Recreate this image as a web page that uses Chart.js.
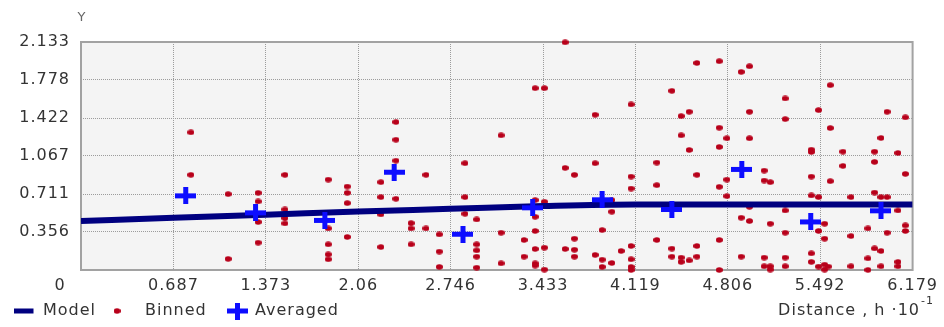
<!DOCTYPE html>
<html>
<head>
<meta charset="utf-8">
<script src="https://cdn.jsdelivr.net/npm/chart.js@4.4.1/dist/chart.umd.min.js"></script>
<style>
  html, body { margin: 0; padding: 0; background: #ffffff; }
  #wrap { position: relative; width: 944px; height: 327px; }
</style>
</head>
<body>
<div id="wrap"><canvas id="c"></canvas></div>
<script>
// ---- data ----
const xTicks = [0, 0.687, 1.373, 2.06, 2.746, 3.433, 4.119, 4.806, 5.492, 6.179];
const xTickLabels = ['0', '0.687', '1.373', '2.06', '2.746', '3.433', '4.119', '4.806', '5.492', '6.179'];
const yTicks = [0, 0.356, 0.711, 1.067, 1.422, 1.778, 2.133];
const yTickLabels = ['0', '0.356', '0.711', '1.067', '1.422', '1.778', '2.133'];

const modelX = [0, 0.687, 1.373, 2.06, 2.746, 3.433, 4.119, 4.806, 5.492, 6.179];
const modelY = [0.458, 0.489, 0.517, 0.548, 0.572, 0.598, 0.613, 0.613, 0.613, 0.613];

const averagedX = [0.778, 1.297, 1.812, 2.327, 2.838, 3.356, 3.872, 4.390, 4.910, 5.422, 5.944];
const averagedY = [0.694, 0.535, 0.464, 0.915, 0.335, 0.582, 0.657, 0.566, 0.941, 0.450, 0.554];

// binned semivariogram cloud: one lag distance per column, with the values at that lag
const binnedLags = [0.816, 1.093, 1.316, 1.515, 1.837, 1.978, 2.228, 2.340, 2.452, 2.563,
  2.662, 2.853, 2.940, 3.121, 3.292, 3.374, 3.443, 3.597, 3.666, 3.820,
  3.872, 3.944, 4.013, 4.087, 4.278, 4.390, 4.459, 4.519, 4.576, 4.742,
  4.799, 4.905, 4.967, 5.076, 5.121, 5.232, 5.426, 5.480, 5.525, 5.552,
  5.567, 5.661, 5.721, 5.847, 5.896, 5.944, 5.989, 6.070, 6.125];
const binnedValues = [
  [1.288, 0.890], [0.710, 0.104], [0.722, 0.641, 0.449, 0.256], [0.890, 0.566, 0.486, 0.436],
  [0.846, 0.389, 0.240, 0.146, 0.100], [0.781, 0.722, 0.626, 0.309], [0.822, 0.682, 0.520, 0.215],
  [1.384, 1.219, 1.023, 0.666], [0.439, 0.389, 0.240], [0.890, 0.389],
  [0.333, 0.172, 0.029], [0.999, 0.682, 0.526], [0.473, 0.240, 0.184, 0.125, 0.022],
  [1.260, 0.349, 0.062], [0.281, 0.125], [1.701, 0.654, 0.498, 0.365, 0.197, 0.062, 0.041],
  [1.701, 0.638, 0.209, 0.004], [2.130, 0.955, 0.197], [0.890, 0.293, 0.190, 0.125],
  [1.452, 0.999, 0.141], [0.374, 0.097, 0.029], [0.654, 0.545, 0.066], [0.178],
  [1.549, 0.874, 0.762, 0.225, 0.100, 0.029, 0.000], [1.005, 0.794, 0.281],
  [1.676, 0.200, 0.125], [1.440, 1.260, 0.116, 0.076], [1.480, 1.123, 0.090],
  [1.937, 0.890, 0.225, 0.125], [1.953, 1.331, 1.151, 0.778, 0.281, 0.000],
  [1.232, 0.846, 0.691], [1.853, 0.489, 0.125], [1.906, 1.480, 1.232, 0.591, 0.458],
  [0.930, 0.837, 0.116, 0.035], [0.822, 0.433, 0.035, 0.004],
  [1.605, 1.412, 0.557, 0.349, 0.116, 0.035], [1.126, 1.104, 0.874, 0.697, 0.156, 0.076],
  [1.496, 0.682, 0.365, 0.032], [0.433, 0.293, 0.050, 0.004], [0.032],
  [1.729, 1.328, 0.831], [1.107, 0.974], [0.682, 0.318, 0.035], [0.389, 0.109, 0.001],
  [1.107, 1.011, 0.725, 0.202], [1.235, 0.682, 0.178, 0.035], [1.480, 0.682, 0.349],
  [1.095, 0.557, 0.076, 0.035], [1.428, 0.899, 0.417, 0.365]
];

const seriesNames = ['Model', 'Binned', 'Averaged'];
const xAxisTitle = 'Distance , h \u00B710';
const xAxisExp = '-1';
const yAxisTitle = 'Y';

// ---- marker images ----
function makeDot() {
  const c = document.createElement('canvas'); c.width = 7; c.height = 6;
  const g = c.getContext('2d');
  g.fillStyle = '#b8001a';
  g.beginPath(); g.ellipse(3.5, 3, 3.5, 2.8, 0, 0, Math.PI * 2); g.fill();
  return c;
}
function makeCross() {
  const c = document.createElement('canvas'); c.width = 21; c.height = 17;
  const g = c.getContext('2d');
  g.fillStyle = '#0d0dff';
  g.fillRect(0, 6, 21, 5);
  g.fillRect(8, 0, 5, 17);
  return c;
}
const dotImg = makeDot();
const crossImg = makeCross();

const binnedPoints = [];
binnedLags.forEach((lag, i) => binnedValues[i].forEach(v => binnedPoints.push({ x: lag, y: v })));
const modelPoints = modelX.map((x, i) => ({ x, y: modelY[i] }));
const averagedPoints = averagedX.map((x, i) => ({ x, y: averagedY[i] }));

const FONT = 'DejaVu Sans';
Chart.defaults.font.family = FONT;
Chart.defaults.font.size = 16;
Chart.defaults.color = '#333333';

const spacing = {
  id: 'spacing',
  beforeUpdate(chart) { chart.ctx.letterSpacing = '1px'; },
  beforeDraw(chart) { chart.ctx.letterSpacing = '1px'; }
};

const decor = {
  id: 'decor',
  beforeDraw(chart) {
    const { ctx, chartArea: a } = chart;
    ctx.save();
    ctx.fillStyle = '#f4f4f4';
    ctx.fillRect(a.left, a.top, a.right - a.left, a.bottom - a.top);
    ctx.restore();
  },
  beforeDatasetsDraw(chart) {
    const { ctx, chartArea: a } = chart;
    ctx.save();
    ctx.strokeStyle = '#a2a2a2';
    ctx.lineWidth = 2;
    ctx.strokeRect(a.left, a.top, a.right - a.left, a.bottom - a.top);
    ctx.restore();
  },
  afterDraw(chart) {
    const { ctx, chartArea: a } = chart;
    ctx.save();
    ctx.letterSpacing = '1px';
    ctx.textBaseline = 'middle';
    // y axis title
    ctx.font = '13px "' + FONT + '"';
    ctx.fillStyle = '#666666';
    ctx.textAlign = 'center';
    ctx.fillText(yAxisTitle, a.left + 1, 18);
    // origin label
    ctx.font = '16px "' + FONT + '"';
    ctx.fillStyle = '#333333';
    ctx.fillText(xTickLabels[0], a.left - 21, 286);
    // legend
    const ly = 311;
    ctx.fillStyle = '#000080';
    ctx.fillRect(14, ly - 2.5, 19.5, 5);
    ctx.drawImage(dotImg, 117 - 3.5, ly - 3);
    ctx.drawImage(crossImg, 237.5 - 10.5, ly - 8.5);
    ctx.fillStyle = '#333333';
    ctx.textAlign = 'left';
    ctx.fillText(seriesNames[0], 43, ly);
    ctx.fillText(seriesNames[1], 145, ly);
    ctx.fillText(seriesNames[2], 255, ly);
    // x axis title
    ctx.textAlign = 'right';
    ctx.fillText(xAxisTitle, 920, ly);
    ctx.font = '11px "' + FONT + '"';
    ctx.textAlign = 'left';
    ctx.fillText(xAxisExp, 921, ly - 10);
    ctx.restore();
  }
};

new Chart(document.getElementById('c'), {
  type: 'scatter',
  data: {
    datasets: [
      {
        label: seriesNames[2], data: averagedPoints, order: 0,
        pointStyle: crossImg, pointRadius: 8, clip: false
      },
      {
        label: seriesNames[0], data: modelPoints, order: 1, showLine: true,
        borderColor: '#000080', borderWidth: 6, pointRadius: 0,
        cubicInterpolationMode: 'monotone', borderCapStyle: 'butt', fill: false
      },
      {
        label: seriesNames[1], data: binnedPoints, order: 2,
        pointStyle: dotImg, pointRadius: 3, clip: false
      }
    ]
  },
  options: {
    responsive: true,
    maintainAspectRatio: false,
    animation: false,
    events: [],
    layout: { padding: { top: 42, right: 31, bottom: 0, left: 0 } },
    plugins: { legend: { display: false }, tooltip: { enabled: false } },
    scales: {
      x: {
        type: 'linear', min: 0, max: 6.179,
        afterBuildTicks: s => { s.ticks = xTicks.map(v => ({ value: v })); },
        afterFit: s => { s.height = 57; },
        ticks: { padding: 6, maxRotation: 0, autoSkip: false, color: '#333333',
          callback: (v, i) => (i === 0 ? '' : xTickLabels[i]) },
        grid: { color: '#9c9c9c', lineWidth: 1, drawTicks: false },
        border: { display: false, dash: [1, 1] }
      },
      y: {
        type: 'linear', min: 0, max: 2.133,
        afterBuildTicks: s => { s.ticks = yTicks.map(v => ({ value: v })); },
        afterFit: s => { s.width = 81; },
        ticks: { padding: 11, autoSkip: false, color: '#333333',
          callback: (v, i) => (i === 0 ? '' : yTickLabels[i]) },
        grid: { color: '#9c9c9c', lineWidth: 1, drawTicks: false },
        border: { display: false, dash: [1, 1] }
      }
    }
  },
  plugins: [spacing, decor]
});
</script>
</body>
</html>
